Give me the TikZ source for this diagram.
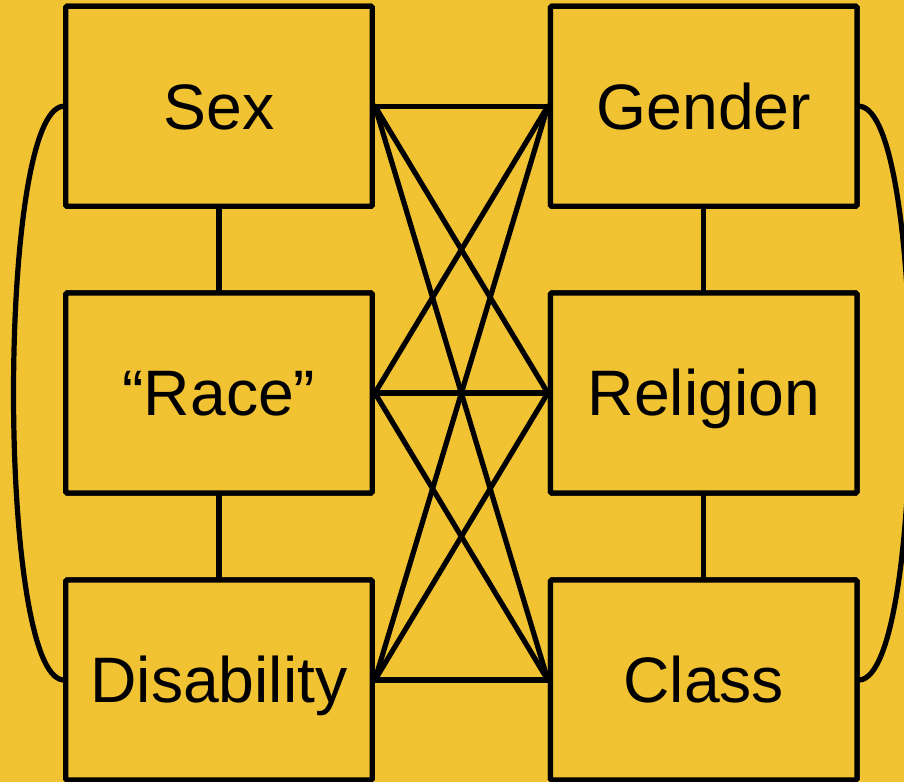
\documentclass[tikz,border=0pt]{standalone}
\usepackage{fontspec}
\setmainfont{Liberation Sans}
\definecolor{bgyellow}{HTML}{F1C232}
\begin{document}
\begin{tikzpicture}[x=0.75pt,y=-0.75pt,
  box/.style={draw=black,line width=3.9pt,rounded corners=1pt,fill=bgyellow,
    minimum width=230pt,minimum height=150pt,inner sep=0pt,
    text height=34.4pt,text depth=0pt,
    font=\fontsize{48.2pt}{57pt}\selectfont},
  link/.style={draw=black,line width=3.9pt,line cap=round}]
\fill[bgyellow] (0,0) rectangle (904,782);
\useasboundingbox (0,0) rectangle (904,782);
\clip (0,0) rectangle (904,782);
\node[box] (sex) at (219,106.25) {Sex};
\node[box] (race) at (219,393) {“Race”};
\node[box] (dis) at (219,680) {Disability};
\node[box] (gen) at (703.75,106.25) {Gender};
\node[box] (rel) at (703.75,393) {Religion};
\node[box] (cls) at (703.75,680) {Class};
\foreach \a in {sex,race,dis}{
  \foreach \b in {gen,rel,cls}{
    \draw[link] (\a.east) -- (\b.west);
  }
}
\draw[link] (sex.south) -- (race.north);
\draw[link] (race.south) -- (dis.north);
\draw[link] (gen.south) -- (rel.north);
\draw[link] (rel.south) -- (cls.north);
\draw[link] (sex.west) .. controls (-3,112) and (-3,674) .. (dis.west);
\draw[link] (gen.east) .. controls (927,112) and (927,674) .. (cls.east);
% redraw boxes on top of line ends
\foreach \p/\t in {{(219,106.25)}/Sex, {(219,393)}/“Race”, {(219,680)}/Disability, {(703.75,106.25)}/Gender, {(703.75,393)}/Religion, {(703.75,680)}/Class}{
  \node[box] at \p {\t};
}
\end{tikzpicture}
\end{document}
